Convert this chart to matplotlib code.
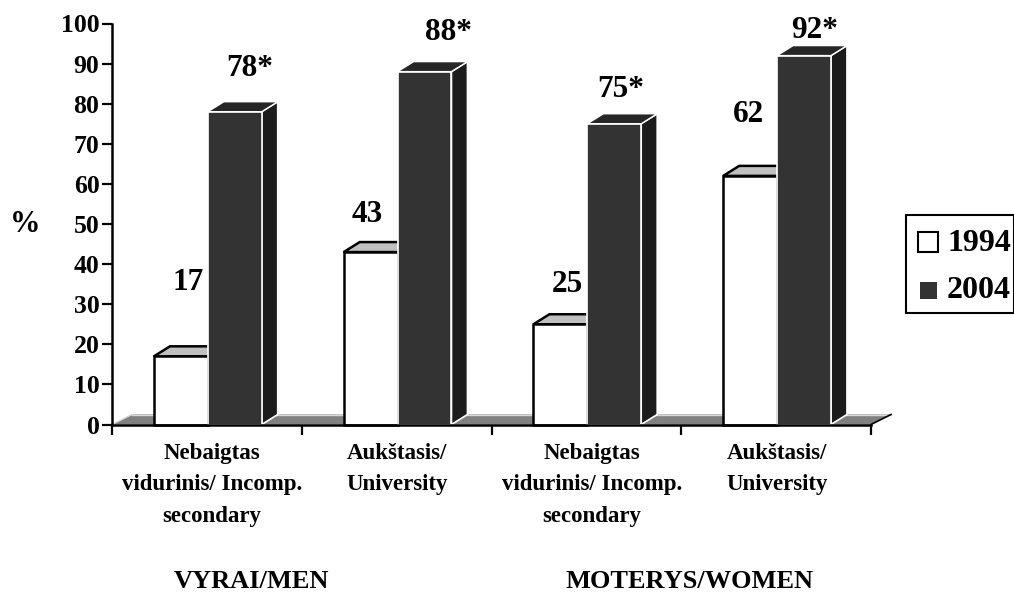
import matplotlib
matplotlib.use("Agg")
import matplotlib.pyplot as plt
from matplotlib.patches import Polygon, Rectangle

plt.rcParams['font.family'] = ['Liberation Serif', 'DejaVu Serif']

labels = ["Nebaigtas\nvidurinis/ Incomp.\nsecondary", "Aukštasis/\nUniversity",
          "Nebaigtas\nvidurinis/ Incomp.\nsecondary", "Aukštasis/\nUniversity"]
v1994 = [17, 43, 25, 62]
v2004 = [78, 88, 75, 92]
txt1994 = ["17", "43", "25", "62"]
txt2004 = ["78*", "88*", "75*", "92*"]
yticks = [0, 10, 20, 30, 40, 50, 60, 70, 80, 90, 100]

W, H = 1014, 592
fig = plt.figure(figsize=(W / 100, H / 100), dpi=100)
ax = fig.add_axes([112 / W, 1 - 424.5 / H, 759 / W, 401 / H])
ax.set_xlim(0, 4)
ax.set_ylim(0, 100)

# depth of the fake 3d, in data units
dx = 16 / 189.75
dy = 10 / 4.01
fx = 20 / 189.75
bw = 0.284
off = 0.221


def poly(pts, fc, ec, lw, z):
    ax.add_patch(Polygon(pts, closed=True, facecolor=fc, edgecolor=ec, linewidth=lw,
                         zorder=z, clip_on=False, joinstyle="miter"))


# floor
poly([(0, 0), (fx, dy), (4 + fx, dy), (4, 0)], "#808080", "none", 0, 1)
ax.plot([fx, 4 + fx], [dy, dy], color="#d8d8d8", lw=1, zorder=1.5, clip_on=False)
ax.plot([0, fx], [0, dy], color="#d8d8d8", lw=1, zorder=1.5, clip_on=False)
ax.plot([4, 4 + fx], [0, dy], color="black", lw=1.2, zorder=1.5, clip_on=False)

for i in range(4):
    x0 = i + off
    x1 = x0 + bw
    x2 = x1 + bw
    a = v1994[i]
    b = v2004[i]
    # white bar
    poly([(x0, a), (x0 + dx, a + dy), (x1 + dx, a + dy), (x1, a)], "#c0c0c0", "black", 1.8, 2)
    poly([(x1, 0), (x1 + dx, dy), (x1 + dx, a + dy), (x1, a)], "#1c1c1c", "black", 1.5, 2)
    ax.add_patch(Rectangle((x0, 0), bw, a, facecolor="white", edgecolor="black", linewidth=1.8,
                           zorder=3, clip_on=False))
    # dark bar
    poly([(x2, 0), (x2 + dx, dy), (x2 + dx, b + dy), (x2, b)], "#1c1c1c", "white", 1.2, 4)
    poly([(x1, b), (x1 + dx, b + dy), (x2 + dx, b + dy), (x2, b)], "#262626", "white", 1.0, 4)
    ax.add_patch(Rectangle((x1, 0), bw, b, facecolor="#333333", edgecolor="white", linewidth=1.2,
                           zorder=5, clip_on=False))

# value labels, placed in pixels to follow the original
pos1994 = [(188, 283), (367, 215), (567, 285), (748, 114)]
pos2004 = [(250, 68), (448, 33), (621, 90), (815, 31)]
for t, p in zip(txt1994, pos1994):
    fig.text(p[0] / W, 1 - p[1] / H, t, fontsize=22.5, fontweight="bold", ha="center", va="center")
for t, p in zip(txt2004, pos2004):
    fig.text(p[0] / W, 1 - p[1] / H, t, fontsize=22.5, fontweight="bold", ha="center", va="center")

for s in ["top", "right"]:
    ax.spines[s].set_visible(False)
for s in ["left", "bottom"]:
    ax.spines[s].set_linewidth(1.8)
    ax.spines[s].set_zorder(6)

ax.set_yticks(yticks)
ax.set_xticks([0, 1, 2, 3, 4])
ax.set_xticklabels([])
ax.tick_params(axis="y", length=7, width=1.6, labelsize=18.5, pad=2)
ax.tick_params(axis="x", length=7, width=1.6)
for l in ax.get_yticklabels():
    l.set_fontweight("bold")

label_x = [212, 397, 592, 777]
for lab, lx in zip(labels, label_x):
    fig.text(lx / W, 1 - 443 / H, lab, fontsize=16.5, fontweight="bold", ha="center", va="top",
             linespacing=1.65)

fig.text(25 / W, 1 - 224 / H, "%", fontsize=22, fontweight="bold", ha="center", va="center")
fig.text(252 / W, 1 - 582 / H, "VYRAI/MEN", fontsize=19, fontweight="bold", ha="center", va="center")
fig.text(690 / W, 1 - 582 / H, "MOTERYS/WOMEN", fontsize=19, fontweight="bold", ha="center", va="center")

# legend box
fig.add_artist(Rectangle((906 / W, 1 - 313 / H), 108 / W, 98 / H, transform=fig.transFigure,
                         facecolor="white", edgecolor="black", linewidth=1.5))
fig.add_artist(Rectangle((918 / W, 1 - 252 / H), 20 / W, 20 / H, transform=fig.transFigure,
                         facecolor="white", edgecolor="black", linewidth=1.5))
fig.add_artist(Rectangle((920 / W, 1 - 299 / H), 17 / W, 17 / H, transform=fig.transFigure,
                         facecolor="#333333", edgecolor="none"))
fig.text(947 / W, 1 - 243 / H, "1994", fontsize=23, fontweight="bold", ha="left", va="center")
fig.text(947 / W, 1 - 291 / H, "2004", fontsize=23, fontweight="bold", ha="left", va="center")

fig.savefig("out.png", dpi=100)
